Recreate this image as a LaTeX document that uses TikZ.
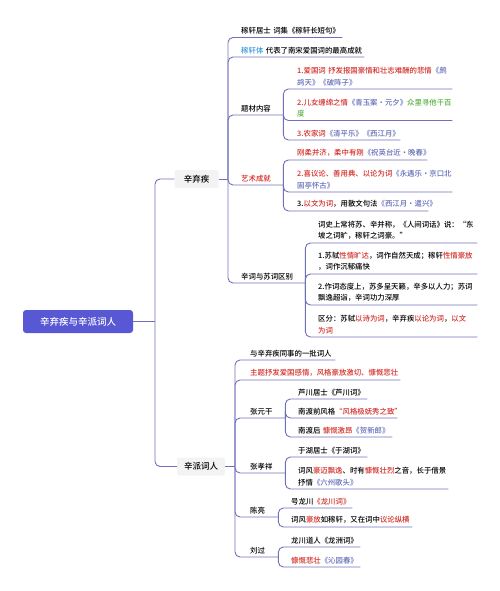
\documentclass[tikz,border=0pt]{standalone}
\usepackage{fontspec}
\setmainfont{Noto Sans CJK SC}[UprightFont={* Medium}]
\usepackage{xcolor}
\usetikzlibrary{positioning}

\definecolor{linkcol}{RGB}{112,112,186}
\definecolor{hotred}{RGB}{210,45,40}
\definecolor{bookblue}{RGB}{98,108,182}
\definecolor{skyblue}{RGB}{52,152,219}
\definecolor{leafgreen}{RGB}{88,176,66}
\definecolor{rootfill}{RGB}{88,88,212}
\definecolor{boxgray}{RGB}{243,243,243}
\newcommand{\redtxt}[1]{\textcolor{hotred}{#1}}
\newcommand{\booktxt}[1]{\textcolor{bookblue}{#1}}
\newcommand{\greentxt}[1]{\textcolor{leafgreen}{#1}}

\tikzset{
  link/.style={draw=linkcol, line width=0.9pt, rounded corners=5pt},
  leaf/.style={anchor=south west, inner xsep=0pt, inner ysep=3pt, text width=#1,
    align=left, font=\fontsize{7.4}{11.5}\selectfont},
  topicbox/.style={fill=boxgray, rounded corners=2pt, minimum width=44pt,
    minimum height=18pt, inner sep=1pt, font=\fontsize{8.5}{10}\selectfont},
  rootbox/.style={fill=rootfill, text=white, rounded corners=3pt, minimum width=110pt,
    minimum height=23pt, font=\fontsize{9.5}{11}\selectfont}
}

\begin{document}
\begin{tikzpicture}[x=1pt, y=-1pt]
\useasboundingbox (0,0) rectangle (500,591);

% main topics
\node[rootbox] (root) at (78,321.5) {辛弃疾与辛派词人};
\node[topicbox] (xin) at (196.5,179) {辛弃疾};
\node[topicbox, minimum width=48pt] (pai) at (201,466.5) {辛派词人};
\coordinate (rootj) at (155,321.5);
\coordinate (xinj) at (228,179);
\coordinate (paij) at (235,466.5);

% Xin Qiji
\node[leaf=101pt] (hao) at (241,37.5) {稼轩居士~词集《稼轩长短句》};
\node[leaf=123pt] (ti) at (241,57) {\textcolor{skyblue}{稼轩体}~代表了南宋爱国词的最高成就};
\node[leaf=42pt] (ticai) at (241,115) {题材内容};
\node[leaf=42pt] (yishu) at (241,185) {\redtxt{艺术成就}};
\node[leaf=64pt] (qubie) at (241,283) {辛词与苏词区别};

\node[leaf=155pt] (tc1) at (297,89) {\redtxt{1.爱国词~抒发报国豪情和壮志难酬的悲情}\booktxt{《鹧}\\\booktxt{鸪天》《破阵子》}};
\node[leaf=155pt] (tc2) at (297,120.5) {\redtxt{2.儿女缠绵之情}\booktxt{《青玉案·元夕》}\greentxt{众里寻他千百}\\\greentxt{度}};
\node[leaf=103pt] (tc3) at (297,140) {\redtxt{3.农家词}\booktxt{《清平乐》《西江月》}};

\node[leaf=130pt] (ys1) at (297,160) {\redtxt{刚柔并济，柔中有刚}\booktxt{《祝英台近·晚春》}};
\node[leaf=155pt] (ys2) at (297,192) {\redtxt{2.喜议论、善用典、以论为词}\booktxt{《永遇乐·京口北}\\\booktxt{固亭怀古》}};
\node[leaf=131pt] (ys3) at (297,211) {3.\redtxt{以文为词}，用散文句法\booktxt{《西江月·遣兴》}};

\node[leaf=159pt] (qb1) at (318,243) {词史上常将苏、辛并称，《人间词话》说：“东\\坡之词旷，稼轩之词豪。”};
\node[leaf=159pt] (qb2) at (318,274) {1.苏轼\redtxt{性情旷达}，词作自然天成；稼轩\redtxt{性情豪放}\\，词作沉郁痛快};
\node[leaf=159pt] (qb3) at (318,305) {2.作词态度上，苏多呈天籁，辛多以人力；苏词\\飘逸超诣，辛词功力深厚};
\node[leaf=159pt] (qb4) at (318,337) {区分：苏轼\redtxt{以诗为词}，辛弃疾\redtxt{以论为词}，\redtxt{以文}\\\redtxt{为词}};

% Xin school poets
\node[leaf=85pt] (pi1) at (250,360) {与辛弃疾同事的一批词人};
\node[leaf=150pt] (pi2) at (250,380) {\redtxt{主题抒发爱国感情，风格豪放激切、慷慨悲壮}};
\node[leaf=35pt] (zyg) at (250,418) {张元干};
\node[leaf=35pt] (zxx) at (250,473) {张孝祥};
\node[leaf=28pt] (cl) at (250,517) {陈亮};
\node[leaf=28pt] (lg) at (250,557) {刘过};

\node[leaf=69pt] (zy1) at (298,399) {芦川居士《芦川词》};
\node[leaf=99pt] (zy2) at (298,418) {南渡前风格\redtxt{“风格极妩秀之致”}};
\node[leaf=94pt] (zy3) at (298,437) {南渡后~\redtxt{慷慨激昂}\booktxt{《贺新郎》}};

\node[leaf=69pt] (zx1) at (298,457) {于湖居士《于湖词》};
\node[leaf=150pt] (zx2) at (298,489) {词风\redtxt{豪迈飘逸}、时有\redtxt{慷慨壮烈}之音，长于借景\\抒情\booktxt{《六州歌头》}};

\node[leaf=61pt] (cl1) at (291,508) {号龙川\redtxt{《龙川词》}};
\node[leaf=121pt] (cl2) at (291,527) {词风\redtxt{豪放}如稼轩，又在词中\redtxt{议论纵横}};

\node[leaf=69pt] (lg1) at (291,547) {龙川道人《龙洲词》};
\node[leaf=69pt] (lg2) at (291,567) {\redtxt{慷慨悲壮}\booktxt{《沁园春》}};

% connectors
\draw[link] (root.east) -- (rootj);
\foreach \c in {xin, pai} \draw[link] (rootj) |- (\c.west);
\draw[link] (xin.east) -- (xinj);
\draw[link] (pai.east) -- (paij);
\foreach \c in {hao, ti, ticai, yishu, qubie} \draw[link] (xinj) |- (\c.south east);
\foreach \c in {tc1, tc2, tc3} \draw[link] (ticai.south east) |- (\c.south east);
\foreach \c in {ys1, ys2, ys3} \draw[link] (yishu.south east) |- (\c.south east);
\foreach \c in {qb1, qb2, qb3, qb4} \draw[link] (qubie.south east) |- (\c.south east);
\foreach \c in {pi1, pi2, zyg, zxx, cl, lg} \draw[link] (paij) |- (\c.south east);
\foreach \c in {zy1, zy2, zy3} \draw[link] (zyg.south east) |- (\c.south east);
\foreach \c in {zx1, zx2} \draw[link] (zxx.south east) |- (\c.south east);
\foreach \c in {cl1, cl2} \draw[link] (cl.south east) |- (\c.south east);
\foreach \c in {lg1, lg2} \draw[link] (lg.south east) |- (\c.south east);
\end{tikzpicture}
\end{document}
